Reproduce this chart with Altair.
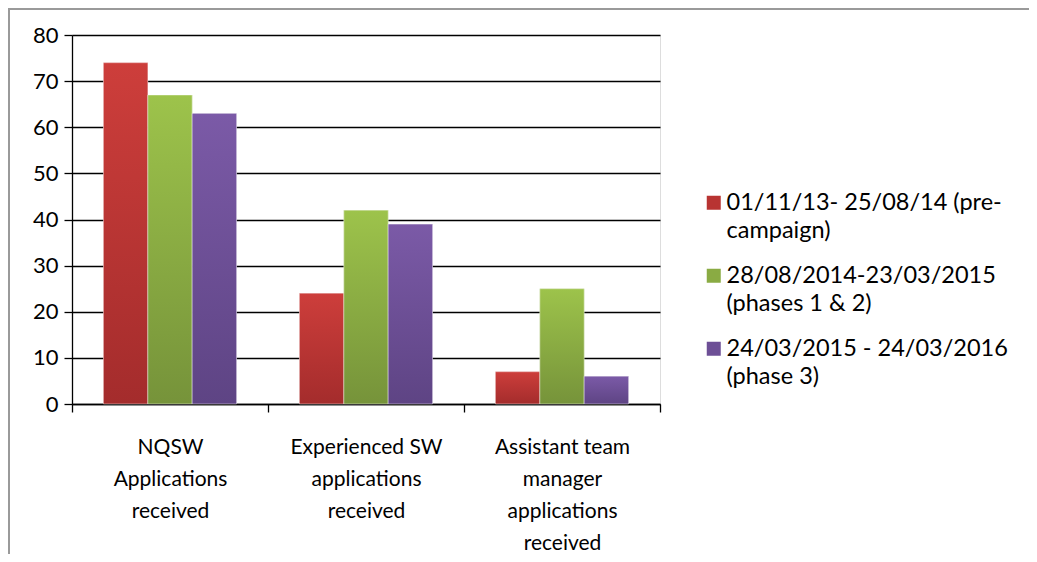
import altair as alt
import pandas as pd

categories = ["NQSW|Applications|received", "Experienced SW|applications|received",
              "Assistant team|manager|applications|received"]
series = ["01/11/13- 25/08/14 (pre-|campaign)", "28/08/2014-23/03/2015|(phases 1 & 2)",
          "24/03/2015 - 24/03/2016|(phase 3)"]
pre_campaign = [74, 24, 7]
phases_1_2 = [67, 42, 25]
phase_3 = [63, 39, 6]

top_colors = ["#CD3E3B", "#9DC34B", "#7B5AA7"]
bottom_colors = ["#A42C2C", "#76933A", "#5E4484"]

rows = []
for vals, s in zip([pre_campaign, phases_1_2, phase_3], series):
    for c, v in zip(categories, vals):
        rows.append({"category": c, "series": s, "value": v})
df = pd.DataFrame(rows)

FONT = "Lato"
W, H = 588, 369
PL, PT = 64, 27
PR = 1021 - PL - W
PB = 546 - PT - H

x_enc = alt.X("category:N", sort=categories, title=None,
              scale=alt.Scale(paddingInner=0, paddingOuter=0),
              axis=alt.Axis(labelExpr="split(datum.label, '|')", labelAngle=0,
                            labelFontSize=21, labelFont=FONT, labelColor="#000",
                            labelLineHeight=32, labelPadding=24, labelLimit=300,
                            tickBand="extent", tickSize=8, tickColor="#000", tickWidth=1.3,
                            domainColor="#000", domainWidth=1.3, grid=False))
xo_enc = alt.XOffset("series:N", sort=series, scale=alt.Scale(paddingInner=0, paddingOuter=0.71))
y_enc = alt.Y("value:Q", title=None,
              scale=alt.Scale(domain=[0, 80], nice=False),
              axis=alt.Axis(values=list(range(0, 90, 10)), labelFontSize=22, labelFont=FONT,
                            labelColor="#000", labelPadding=6, tickSize=8, tickColor="#000",
                            tickWidth=1.3, domainColor="#000", domainWidth=1.3,
                            grid=True, gridColor="#000", gridWidth=1.3))

base = alt.Chart(df)

solid = base.mark_bar().encode(
    x=x_enc, xOffset=xo_enc, y=y_enc,
    color=alt.Color("series:N", sort=series, title=None,
                    scale=alt.Scale(domain=series, range=[
                        "#B83432", "#8AAB43", "#6D4F96"]),
                    legend=alt.Legend(orient="none", legendX=630, legendY=156,
                                      labelExpr="split(datum.label, '|')",
                                      labelFontSize=23.5, labelFont=FONT, labelColor="#000",
                                      labelLimit=400,
                                      symbolType="square", symbolSize=196,
                                      symbolStrokeWidth=0, rowPadding=20, labelOffset=1)),
)

layers = [solid]
for s, t, b in zip(series, top_colors, bottom_colors):
    grad = alt.Gradient(gradient="linear", x1=0, x2=0, y1=0, y2=1,
                        stops=[alt.GradientStop(color=t, offset=0),
                               alt.GradientStop(color=b, offset=1)])
    layers.append(
        base.transform_filter(alt.datum.series == s)
        .mark_bar(color=grad, stroke="#ffffff", strokeOpacity=0.45, strokeWidth=1)
        .encode(x=x_enc, xOffset=xo_enc, y=y_enc)
    )

frame = alt.Chart(pd.DataFrame({"k": [0]})).mark_rule(color="#9a9a9a", strokeWidth=2).encode(
    x=alt.value(-PL + 1), x2=alt.value(-PL + 1), y=alt.value(-PT), y2=alt.value(H + PB))
frame_top = alt.Chart(pd.DataFrame({"k": [0]})).mark_rule(color="#9a9a9a", strokeWidth=2).encode(
    x=alt.value(-PL), x2=alt.value(W + PR), y=alt.value(-PT + 1), y2=alt.value(-PT + 1))

chart = alt.layer(*layers, frame, frame_top).properties(
    width=W, height=H,
    autosize=alt.AutoSizeParams(type="none"),
    padding={"left": PL, "top": PT, "right": PR, "bottom": PB},
).configure_view(stroke=None).configure(
    background="#ffffff",
    style={"guide-label": {"lineHeight": 28}},
)

chart.save("out.html", embed_options={"renderer": "svg", "actions": False})
